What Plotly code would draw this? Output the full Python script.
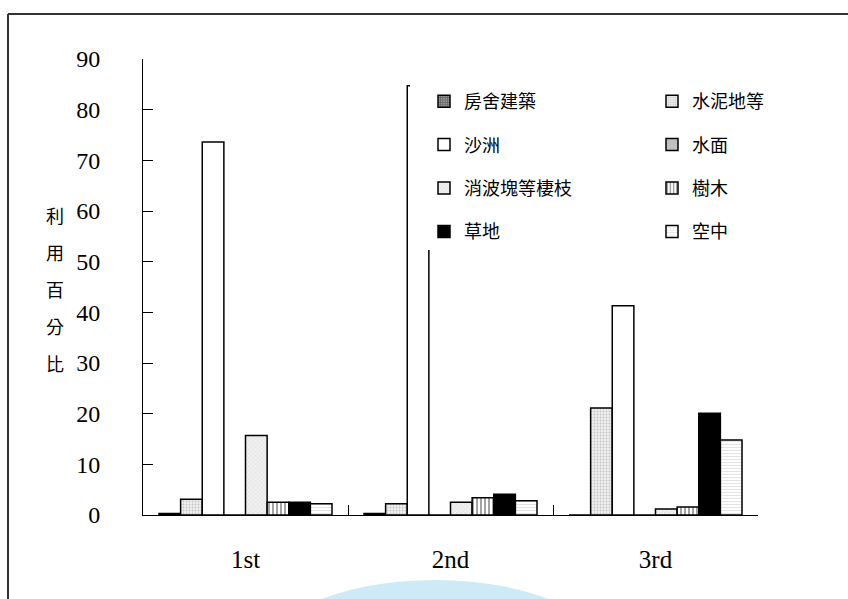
import plotly.graph_objects as go

# Survey rounds and land-use categories
rounds = ["1st", "2nd", "3rd"]
categories = ["房舍建築", "水泥地等", "沙洲", "水面", "消波塊等棲枝", "樹木", "草地", "空中"]

# Percentage of use per category for each round
house = [0.3, 0.3, 0.0]
concrete = [3.1, 2.2, 21.1]
sandbar = [73.6, 84.7, 41.3]
water = [0.0, 0.0, 0.0]
breakwater = [15.7, 2.5, 1.2]
trees = [2.5, 3.4, 1.6]
grass = [2.5, 4.1, 20.1]
air = [2.2, 2.8, 14.8]

y_ticks = [0, 10, 20, 30, 40, 50, 60, 70, 80, 90]
axis_title = "利用百分比"

series = [house, concrete, sandbar, water, breakwater, trees, grass, air]

styles = [
    dict(color="#888888", pattern=dict(shape="+", fgcolor="#222222", bgcolor="#999999", size=3, solidity=0.45)),
    dict(color="#e8e8e8", pattern=dict(shape=".", fgcolor="#9a9a9a", bgcolor="#efefef", size=3, solidity=0.3)),
    dict(color="#ffffff"),
    dict(color="#c0c0c0"),
    dict(color="#e6e6e6", pattern=dict(shape="x", fgcolor="#c4c4c4", bgcolor="#f0f0f0", size=3, solidity=0.25)),
    dict(color="#ffffff", pattern=dict(shape="|", fgcolor="#333333", bgcolor="#ffffff", size=4, solidity=0.45)),
    dict(color="#000000"),
    dict(color="#f4f4f4", pattern=dict(shape="-", fgcolor="#c8c8c8", bgcolor="#ffffff", size=3, solidity=0.35)),
]

W, H = 848, 599
ML, MR, MT, MB = 143, 90, 59, 84
PW, PH = W - ML - MR, H - MT - MB


def px(x):
    return (x - ML) / PW


def py(y):
    return (H - MB - y) / PH


fig = go.Figure()
for i, (name, vals, st) in enumerate(zip(categories, series, styles)):
    fig.add_trace(go.Bar(
        x=rounds, y=vals, name=name,
        legend="legend" if i % 2 == 0 else "legend2",
        legendgroup=name,
        marker=dict(line=dict(color="#000000", width=1.5), **st),
    ))

legend_font = dict(family="Noto Sans CJK TC", size=18, color="#000000")
legend_common = dict(
    orientation="v", bgcolor="#ffffff", borderwidth=0, font=legend_font,
    tracegroupgap=17, xanchor="left", yanchor="top",
)

shapes = [
    # outer frame (top and left edges)
    dict(type="line", xref="paper", yref="paper", x0=px(8), x1=px(848), y0=py(14), y1=py(14),
         line=dict(color="#333333", width=2)),
    dict(type="line", xref="paper", yref="paper", x0=px(8), x1=px(8), y0=py(14), y1=py(620),
         line=dict(color="#333333", width=2)),
    # light blue emblem at the bottom
    dict(type="circle", xref="paper", yref="paper", x0=px(260), x1=px(610), y0=py(580), y1=py(740),
         fillcolor="#cdeaf6", line=dict(width=0), layer="below"),
]

annotations = []
char_rows = [215, 252, 289, 326, 363]
for ch, yy in zip(axis_title, char_rows):
    annotations.append(dict(
        text=ch, xref="paper", yref="paper", x=px(55), y=py(yy),
        showarrow=False, xanchor="center", yanchor="middle",
        font=dict(family="Noto Sans CJK TC", size=18, color="#000000"),
    ))

fig.update_layout(
    width=W, height=H,
    margin=dict(l=ML, r=MR, t=MT, b=MB),
    paper_bgcolor="#ffffff", plot_bgcolor="#ffffff",
    barmode="group", bargap=0.156, bargroupgap=0,
    showlegend=True,
    legend=dict(x=px(410), y=py(83), indentation=14, **legend_common),
    legend2=dict(x=px(652), y=py(83), **legend_common),
    xaxis=dict(
        type="category", showline=True, linecolor="#000000", linewidth=1,
        ticks="inside", tickson="boundaries", ticklen=10, tickcolor="#000000",
        showgrid=False, ticklabelstandoff=22,
        tickfont=dict(family="Liberation Serif", size=25, color="#000000"),
    ),
    yaxis=dict(
        range=[0, 90], tickvals=y_ticks, showline=True, linecolor="#000000", linewidth=1,
        ticks="inside", ticklen=10, tickcolor="#000000", showgrid=False, zeroline=False,
        ticklabelstandoff=37,
        tickfont=dict(family="Liberation Serif", size=24, color="#000000"),
    ),
    shapes=shapes,
    annotations=annotations,
)

fig.write_html("out.html")
